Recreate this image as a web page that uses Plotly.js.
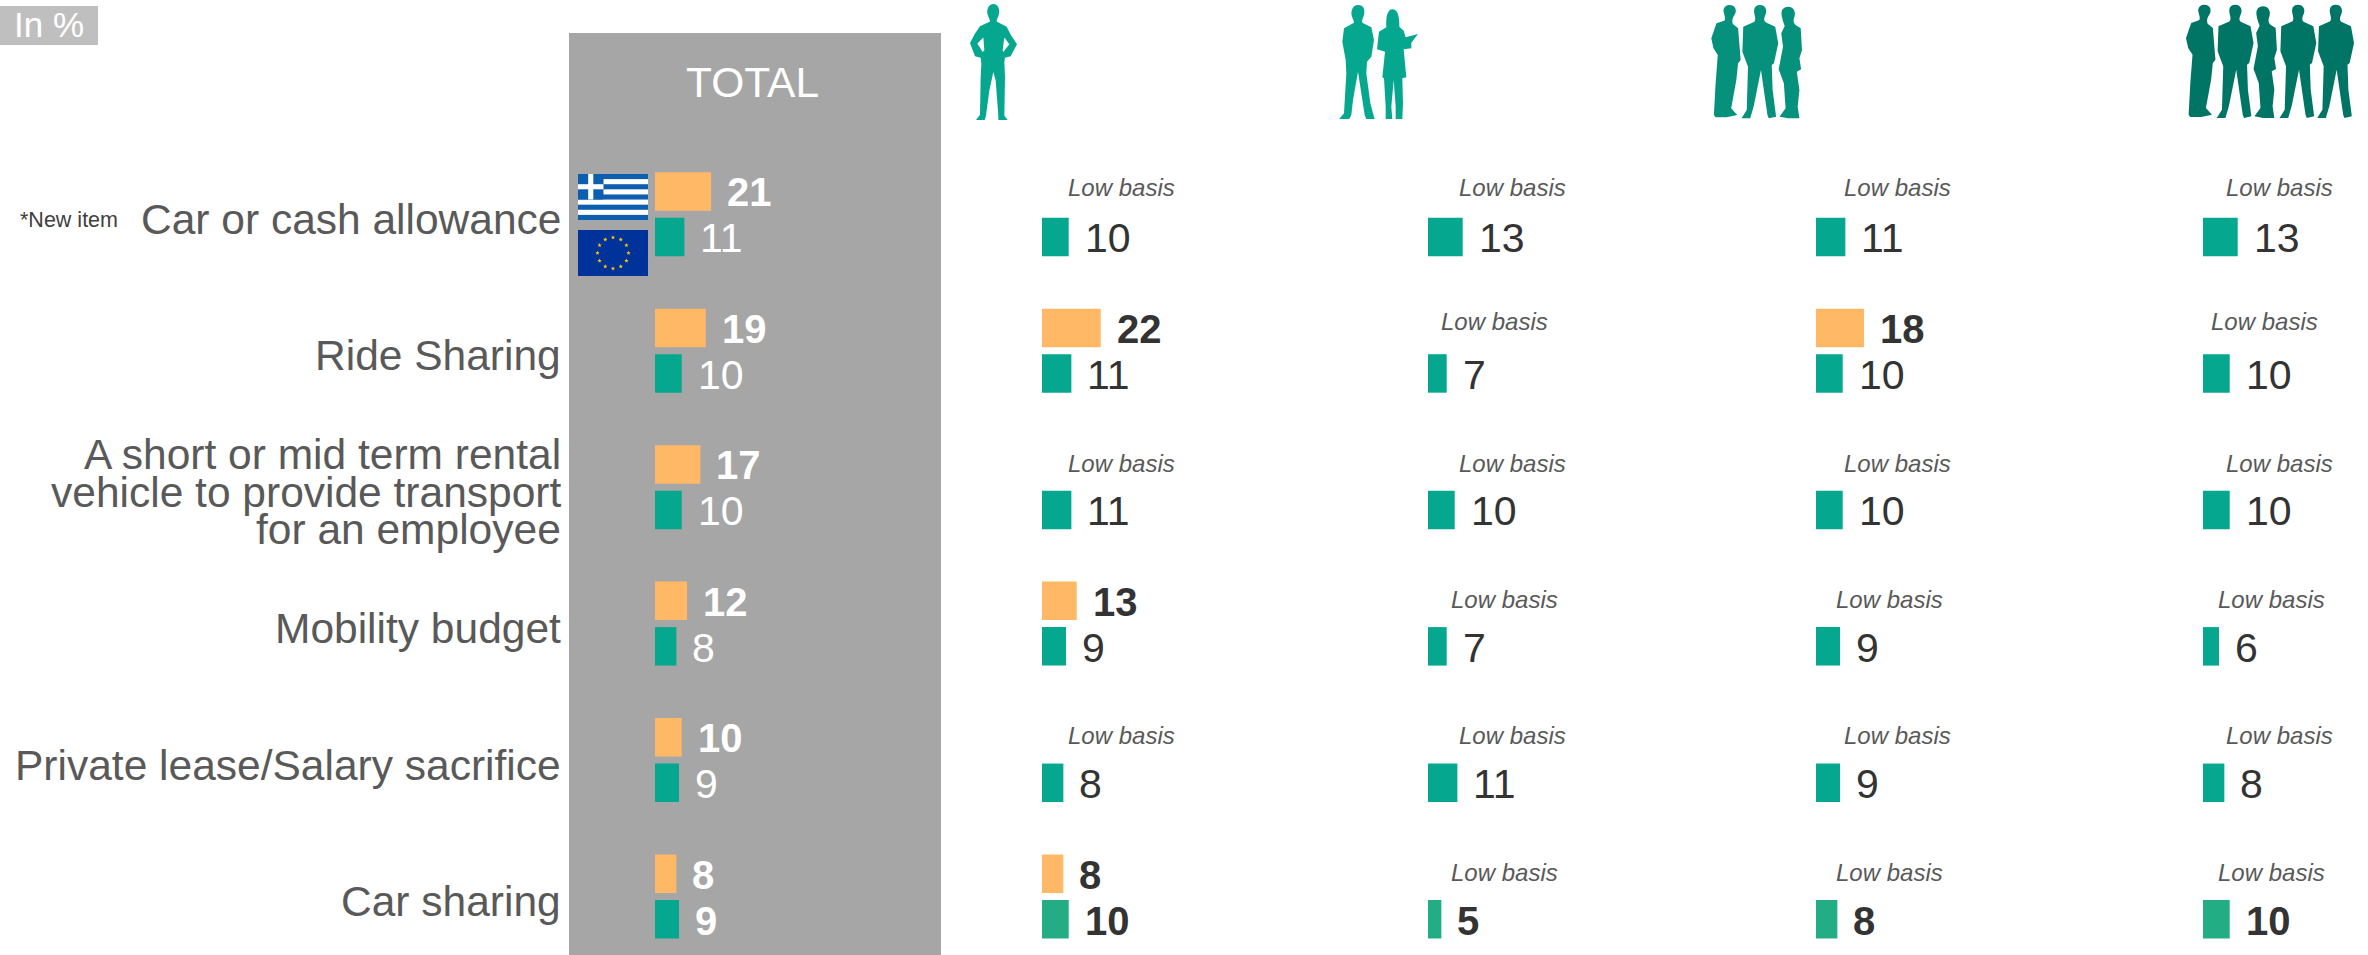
<!DOCTYPE html>
<html><head><meta charset="utf-8">
<script src="https://cdn.plot.ly/plotly-3.0.1.min.js"></script>
<style>html,body{margin:0;padding:0;background:#fff}#c{width:2368px;height:955px}</style>
</head><body><div id="c"></div>
<script>
// ---------- data ----------
const categories = ["Car or cash allowance","Ride Sharing","A short or mid term rental<br>vehicle to provide transport<br>for an employee","Mobility budget","Private lease/Salary sacrifice","Car sharing"];
const totalGreece = [21,19,17,12,10,8];
const totalEU     = [11,10,10,8,9,9];
const oneGreece   = [null,22,null,13,null,8];
const oneEU       = [10,11,11,9,8,10];
const twoGreece   = [null,null,null,null,null,null];
const twoEU       = [13,7,10,7,11,5];
const threeGreece = [null,18,null,null,null,null];
const threeEU     = [11,10,10,9,9,8];
const fourGreece  = [null,null,null,null,null,null];
const fourEU      = [13,10,10,6,8,10];
const lowBasisText = "Low basis";

// ---------- layout helpers ----------
const W=2368,H=955;
const px=x=>x/W, py=y=>1-y/H;
const ORANGE="#FFB966", GREEN="#05A88F", GREEN_SIG="#22AD84", PANEL="#A6A6A6";
const FONT="Liberation Sans, Arial, sans-serif";
const SCALE=2.67, colW=160;
const columns=[
 {ax:"",  start:655, g:totalGreece,e:totalEU,numCol:"#FFFFFF"},
 {ax:"2", start:1042,g:oneGreece,e:oneEU,numCol:"#333333"},
 {ax:"3", start:1428,g:twoGreece,e:twoEU,numCol:"#333333"},
 {ax:"4", start:1816,g:threeGreece,e:threeEU,numCol:"#333333"},
 {ax:"5", start:2203,g:fourGreece,e:fourEU,numCol:"#333333"}
];
// row 0 centre at 214.25px, pitch 136.45px
const rangeTop=-214.25/136.45, rangeBot=(955-214.25)/136.45;

const data=[],annotations=[];
const layout={
 width:W,height:H,margin:{l:0,r:0,t:0,b:0},paper_bgcolor:"#fff",plot_bgcolor:"rgba(0,0,0,0)",
 barmode:"group",bargap:0.333,bargroupgap:0.154,showlegend:false,
 font:{family:FONT},
 yaxis:{type:"category",categoryorder:"array",categoryarray:categories,range:[rangeBot,rangeTop],visible:false,domain:[0,1]},
 annotations,
 shapes:[
  {type:"rect",xref:"paper",yref:"paper",x0:px(569),x1:px(941),y0:0,y1:py(33),fillcolor:PANEL,line:{width:0},layer:"below"},
  {type:"rect",xref:"paper",yref:"paper",x0:0,x1:px(98),y0:py(45),y1:py(6),fillcolor:"#BFBFBF",line:{width:0},layer:"below"}
 ],
 images:[]
};
columns.forEach((c,ci)=>{
 const xa="xaxis"+c.ax, xr="x"+c.ax;
 layout[xa]={domain:[px(c.start),px(c.start+colW)],range:[0,colW/SCALE],visible:false,anchor:"y"};
 const greenCols=c.e.map((v,i)=>(ci>0&&i===5)?GREEN_SIG:GREEN);
 data.push({type:"bar",orientation:"h",name:"Greece",y:categories,x:c.g,xaxis:xr,yaxis:"y",marker:{color:ORANGE,line:{width:0}},hoverinfo:"skip"});
 data.push({type:"bar",orientation:"h",name:"EU",y:categories,x:c.e,xaxis:xr,yaxis:"y",marker:{color:greenCols,line:{width:0}},hoverinfo:"skip"});
 const num=(v,i,shift,bold)=>{ if(v===null)return;
  annotations.push({xref:xr,yref:"y",x:v,y:categories[i],text:bold?"<b>"+v+"</b>":String(v),showarrow:false,xanchor:"left",yanchor:"middle",xshift:14,yshift:shift,
   font:{family:FONT,size:bold?40:41,color:c.numCol}});
 };
 c.g.forEach((v,i)=>num(v,i,22,true));
 c.e.forEach((v,i)=>num(v,i,-24,i===5));
});
// category labels, one annotation per line for the tight line spacing
const lineH=37.5;
categories.forEach((t,i)=>{
 const lines=t.split("<br>");
 lines.forEach((l,k)=>annotations.push({xref:"paper",yref:"y",x:px(563),y:t,text:l,showarrow:false,xanchor:"right",yanchor:"middle",
  yshift:-5-(k-(lines.length-1)/2)*lineH,font:{family:FONT,size:42.5,color:"#595959"}}));
});
// "Low basis" notes
const lbCentre=[
 [1121,1512,1897,2279],[null,1494,null,2264],[1121,1512,1897,2279],
 [null,1504,1889,2271],[1121,1512,1897,2279],[null,1504,1889,2271]];
const lbY=[188,321,463,599,735,872];
lbCentre.forEach((r,i)=>r.forEach(x=>{ if(x===null)return;
 annotations.push({xref:"paper",yref:"paper",x:px(x),y:py(lbY[i]),text:"<i>"+lowBasisText+"</i>",showarrow:false,xanchor:"center",yanchor:"middle",
  font:{family:FONT,size:24,color:"#595959"}});
}));
const txt=(t,x,y,size,color)=>annotations.push({xref:"paper",yref:"paper",x:px(x),y:py(y),text:t,showarrow:false,xanchor:"center",yanchor:"middle",font:{family:FONT,size,color}});
txt("In %",49,25,35,"#FFFFFF");
txt("TOTAL",752.5,83,42.5,"#FFFFFF");
txt("*New item",69,220,21.5,"#404040");

// ---------- decorative pictures ----------
const uri=s=>"data:image/svg+xml;base64,"+btoa(s);
const addImg=(svg,x,y,w,h)=>layout.images.push({source:uri(svg),xref:"paper",yref:"paper",x:px(x),y:py(y),sizex:w/W,sizey:h/H,sizing:"stretch",xanchor:"left",yanchor:"top",layer:"above"});
const svgOf=(vb,w,h,body)=>`<svg xmlns="http://www.w3.org/2000/svg" width="${w}" height="${h}" viewBox="${vb}" preserveAspectRatio="none">${body}</svg>`;
// flags
let gr=`<rect width="70" height="46" fill="#fff"/>`;
for(let i=0;i<9;i+=2)gr+=`<rect y="${i*46/9}" width="70" height="${46/9}" fill="#0D5EAF"/>`;
gr+=`<rect width="25.5" height="25.5" fill="#0D5EAF"/><rect x="10.2" width="5.1" height="25.5" fill="#fff"/><rect y="10.2" width="25.5" height="5.1" fill="#fff"/>`;
addImg(svgOf("0 0 70 46",70,46,gr),578,174,70,46);
const star=(cx,cy,r)=>{let p=[];for(let i=0;i<10;i++){const a=-Math.PI/2+i*Math.PI/5,q=i%2?r*0.42:r;p.push((cx+q*Math.cos(a)).toFixed(2)+","+(cy+q*Math.sin(a)).toFixed(2));}return `<polygon points="${p.join(" ")}" fill="#FFCC00"/>`;};
let eu=`<rect width="70" height="46" fill="#003399"/>`;
for(let i=0;i<12;i++){const a=i*Math.PI/6;eu+=star(35+15.5*Math.cos(a),23+15.5*Math.sin(a),2.3);}
addImg(svgOf("0 0 70 46",70,46,eu),578,230,70,46);
// silhouettes
const solo=`M130,12C145,12 150,30 147,42C144,52 140,58 140,64L170,80L183,105L201,132L182,168L165,172L163,185L165,230L163,345L173,358L145,358L145,345L137,240L130,215L118,270L108,345L104,358L78,358L90,342L92,230L94,190L92,172L75,168L60,128L75,100L90,78L120,64C120,58 115,50 112,40C110,25 118,12 130,12Z M100,112L82,130L98,155L103,150Z M163,112L178,132L160,155L158,150Z`;
addImg(svgOf("60 12 141 346",47,116,`<path d="${solo}" fill="${GREEN}" fill-rule="evenodd"/>`),970,4,47,116);
const man=`M1225,15C1242,15 1247,30 1243,45C1240,55 1236,60 1238,68L1265,82L1273,120L1265,170L1252,185L1250,220L1262,310L1275,358L1250,358L1245,345L1225,215L1210,300L1205,345L1198,358L1168,358L1183,340L1190,220L1188,180L1178,125L1183,85L1213,68C1212,58 1205,50 1205,40C1206,25 1213,15 1225,15Z`;
const woman=`M1328,28C1342,28 1350,45 1349,80L1362,92L1368,112L1405,102L1385,128L1385,145L1362,148L1370,232L1358,235L1360,310L1358,358L1338,358L1338,320L1332,240L1325,320L1328,358L1308,358L1308,320L1303,235L1298,232L1306,155L1282,148L1288,95L1310,82C1308,50 1314,28 1328,28Z`;
addImg(svgOf("1168 15 237 343",79,114.3,`<path d="${man}" fill="${GREEN}"/><path d="${woman}" fill="${GREEN}"/>`),1339,5,79,114.3);
const side=`M92,15C105,15 110,30 105,42C100,52 97,60 100,72L112,85L118,180L112,190L108,240L96,325L110,345L85,352L60,352L56,345L60,250L65,165L55,145L50,115L62,70L80,62C85,55 78,40 78,30C80,20 85,15 92,15Z`;
const front=`M163,15C175,15 180,30 176,42C172,55 170,62 178,68L198,80L205,130L195,190L190,195L192,270L200,350L183,355L180,345L165,210L148,320L140,355L120,355L132,330L135,200L122,155L124,80L150,65C155,55 148,42 149,30C150,20 155,15 163,15Z`;
const lady=`M228,20C240,20 246,35 243,48C241,58 238,65 245,75L257,85L260,150L254,175L258,208L248,215L254,270L250,320L254,355L228,355L208,350L222,325L218,250L206,208L216,140L212,100L220,78C215,60 210,40 214,30C218,22 222,20 228,20Z`;
const put=(d,dx,col)=>`<path transform="translate(${dx},0)" d="${d}" fill="${col}"/>`;
addImg(svgOf("47 12 213 346",92,115.3,put(side,0,"#05917C")+put(front,0,"#05917C")+put(lady,0,"#05917C")),1710,4,92,115.3);
const C4="#007565";
addImg(svgOf("1147 10 388 348",168,116,put(side,1097,C4)+put(front,1098,C4)+put(lady,1097,C4)+put(front,1243,C4)+put(front,1330,C4)),2186,3,168,116);

Plotly.newPlot("c",data,layout,{staticPlot:true,displayModeBar:false});
</script></body></html>
